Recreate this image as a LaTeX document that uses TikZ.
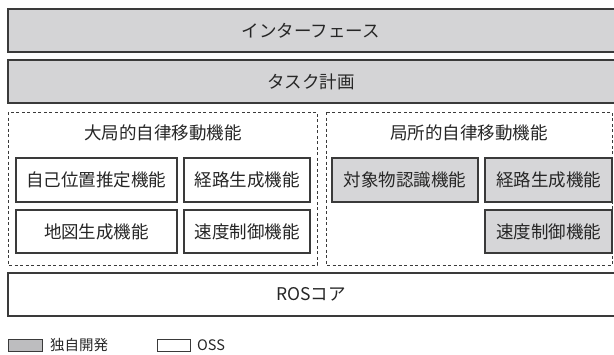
\documentclass[tikz,border=0pt]{standalone}
\usepackage{fontspec}
\setmainfont{Noto Sans CJK JP}
\definecolor{barfill}{HTML}{D4D4D6}
\definecolor{modfill}{HTML}{D6D6D8}
\definecolor{legfill}{HTML}{BDBDBF}
\definecolor{edge}{HTML}{3A3A3A}
\begin{document}
\begin{tikzpicture}[x=1pt,y=-1pt,
  bar/.style={draw=edge,line width=1.1pt,fill=barfill},
  plain/.style={draw=edge,line width=1.1pt,fill=white},
  mod/.style={draw=edge,line width=1.1pt,fill=modfill},
  grp/.style={draw=edge,line width=0.8pt,dash pattern=on 3pt off 2.5pt},
  lbl/.style={font=\fontsize{17.5}{19}\selectfont,text=black!85},
  leg/.style={font=\fontsize{14.5}{16}\selectfont,text=black!85}]
\useasboundingbox (0,0) rectangle (614,354);
% top bars
\draw[bar] (8,9) rectangle (616,52);
\node[lbl] (iface) at (311,31) {インターフェース};
\draw[bar] (8,60) rectangle (616,103);
\node[lbl] (task) at (311,82) {タスク計画};
% groups
\draw[grp] (8,112) rectangle (317,265);
\node[lbl] (gtitle) at (163,133) {大局的自律移動機能};
\draw[grp] (326,112) rectangle (612,265);
\node[lbl] (ltitle) at (469,133) {局所的自律移動機能};
% left modules
\draw[plain] (16,158) rectangle (177,202);
\node[lbl] (loc) at (96.5,180) {自己位置推定機能};
\draw[plain] (184,158) rectangle (310,202);
\node[lbl] (gpath) at (247,180) {経路生成機能};
\draw[plain] (16,210) rectangle (177,253);
\node[lbl] (map) at (96.5,231.5) {地図生成機能};
\draw[plain] (184,210) rectangle (310,253);
\node[lbl] (gvel) at (247,231.5) {速度制御機能};
% right modules
\draw[mod] (332,158) rectangle (478,202);
\node[lbl] (obj) at (405,180) {対象物認識機能};
\draw[mod] (485,158) rectangle (612,202);
\node[lbl] (lpath) at (548.5,180) {経路生成機能};
\draw[mod] (485,210) rectangle (612,253);
\node[lbl] (lvel) at (548.5,231.5) {速度制御機能};
% ROS
\draw[plain] (8,273) rectangle (616,316);
\node[lbl] (ros) at (311,294.5) {ROSコア};
% legend
\draw[draw=edge,line width=1pt,fill=legfill] (8,339) rectangle (42,351);
\node[leg,anchor=west,inner sep=0pt] (own) at (50,345) {独自開発};
\draw[draw=edge,line width=1pt,fill=white] (157,339) rectangle (190,351);
\node[leg,anchor=west,inner sep=0pt] (oss) at (197,345) {OSS};
\end{tikzpicture}
\end{document}
